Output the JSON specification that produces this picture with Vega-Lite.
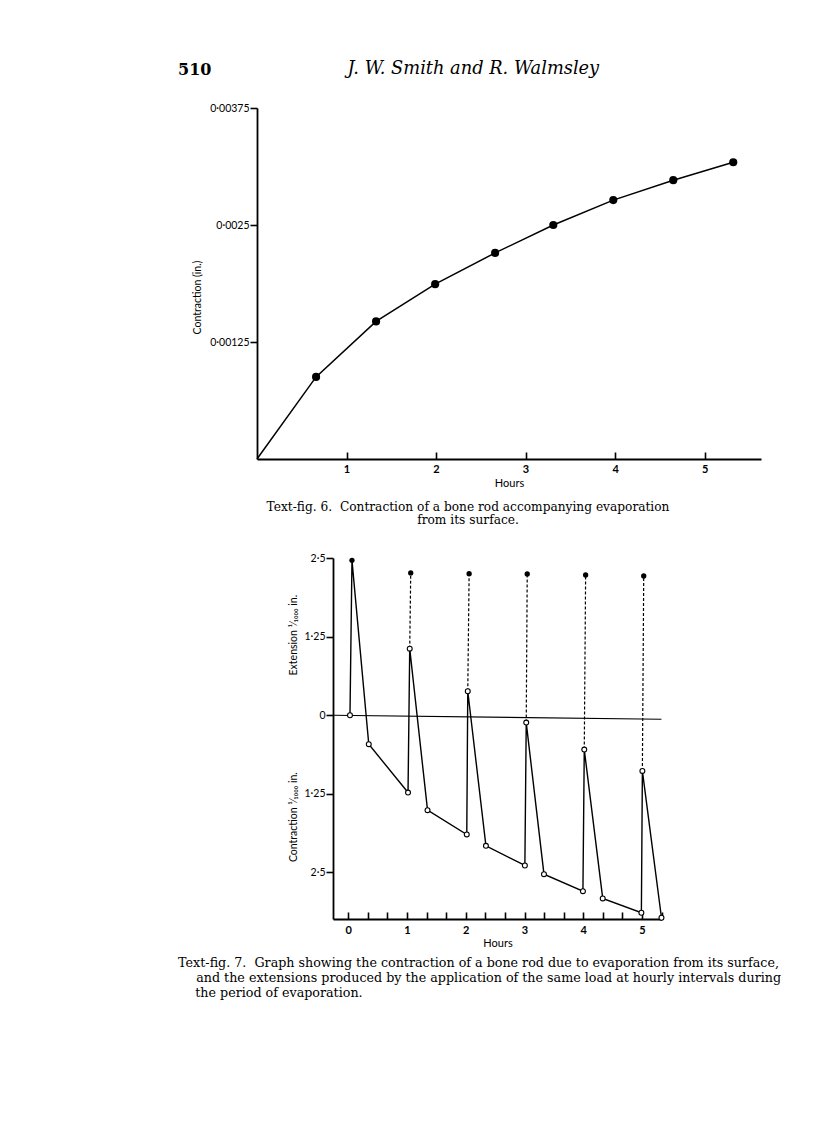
{
  "$schema": "https://vega.github.io/schema/vega-lite/v6.json",
  "background": "white",
  "padding": {"left": 175, "top": 60, "right": 5, "bottom": 5},
  "title": {"text": "510", "anchor": "start", "frame": "group", "font": "DejaVu Serif", "fontSize": 16, "fontWeight": "bold", "color": "black", "offset": -18, "dx": -79},
  "bounds": "flush",
  "spacing": 99,
  "config": {
    "view": {"stroke": null},
    "axis": {"domainColor": "black", "domainWidth": 1.8, "tickColor": "black", "tickWidth": 1.6, "labelColor": "black", "titleColor": "black", "labelFont": "Lato", "titleFont": "Lato", "labelFontSize": 10, "titleFontSize": 11, "titleFontWeight": "normal", "grid": false},
    "title": {"color": "black"}
  },
  "datasets": {
    "zig": [
      {"order": 1, "hour": 0.029, "value": 0, "kind": "open"},
      {"order": 2, "hour": 0.063, "value": 2.463, "kind": "filled"},
      {"order": 3, "hour": 0.349, "value": -0.461, "kind": "open"},
      {"order": 4, "hour": 1.017, "value": -1.229, "kind": "open"},
      {"order": 5, "hour": 1.046, "value": 1.059, "kind": "open"},
      {"order": 6, "hour": 1.349, "value": -1.51, "kind": "open"},
      {"order": 7, "hour": 2.017, "value": -1.896, "kind": "open"},
      {"order": 8, "hour": 2.034, "value": 0.381, "kind": "open"},
      {"order": 9, "hour": 2.343, "value": -2.076, "kind": "open"},
      {"order": 10, "hour": 3.006, "value": -2.389, "kind": "open"},
      {"order": 11, "hour": 3.029, "value": -0.117, "kind": "open"},
      {"order": 12, "hour": 3.331, "value": -2.527, "kind": "open"},
      {"order": 13, "hour": 3.994, "value": -2.797, "kind": "open"},
      {"order": 14, "hour": 4.017, "value": -0.546, "kind": "open"},
      {"order": 15, "hour": 4.331, "value": -2.913, "kind": "open"},
      {"order": 16, "hour": 4.989, "value": -3.141, "kind": "open"},
      {"order": 17, "hour": 5.006, "value": -0.885, "kind": "open"},
      {"order": 18, "hour": 5.331, "value": -3.22, "kind": "open"}
    ],
    "load": [
      {"interval": 1, "hour": 1.046, "value": 1.059},
      {"interval": 1, "hour": 1.063, "value": 2.262},
      {"interval": 2, "hour": 2.034, "value": 0.381},
      {"interval": 2, "hour": 2.057, "value": 2.251},
      {"interval": 3, "hour": 3.029, "value": -0.117},
      {"interval": 3, "hour": 3.046, "value": 2.246},
      {"interval": 4, "hour": 4.017, "value": -0.546},
      {"interval": 4, "hour": 4.04, "value": 2.23},
      {"interval": 5, "hour": 5.006, "value": -0.885},
      {"interval": 5, "hour": 5.029, "value": 2.214}
    ],
    "tops": [
      {"hour": 0.063, "value": 2.463},
      {"hour": 1.063, "value": 2.262},
      {"hour": 2.057, "value": 2.251},
      {"hour": 3.046, "value": 2.246},
      {"hour": 4.04, "value": 2.23},
      {"hour": 5.029, "value": 2.214}
    ],
    "baseline": [
      {"hour": -0.26, "value": 0},
      {"hour": 5.33, "value": -0.064}
    ],
    "evap": [
      {"hours": 0, "contraction": 0},
      {"hours": 0.66, "contraction": 0.000877},
      {"hours": 1.33, "contraction": 0.00147},
      {"hours": 1.99, "contraction": 0.001868},
      {"hours": 2.66, "contraction": 0.002202},
      {"hours": 3.31, "contraction": 0.0025},
      {"hours": 3.98, "contraction": 0.002766},
      {"hours": 4.65, "contraction": 0.002979},
      {"hours": 5.32, "contraction": 0.003171}
    ]
  },
  "vconcat": [
    {
      "width": 504,
      "height": 351,
      "title": {"text": "J. W. Smith and R. Walmsley", "anchor": "middle", "frame": "bounds", "font": "DejaVu Serif", "fontStyle": "italic", "fontWeight": "normal", "fontSize": 17.8, "offset": 25, "dx": -3.5},
      "data": {"name": "evap"},
      "encoding": {
        "x": {"field": "hours", "type": "quantitative", "scale": {"domain": [0, 5.63], "nice": false, "zero": false},
              "axis": {"values": [1, 2, 3, 4, 5], "format": "d", "tickSize": -7, "labelPadding": 11, "labelFontSize": 11, "labelFontWeight": "bold", "title": "Hours", "titlePadding": 3}},
        "y": {"field": "contraction", "type": "quantitative", "scale": {"domain": [0, 0.00375], "nice": false, "zero": false},
              "axis": {"values": [0.00125, 0.0025, 0.00375], "labelExpr": "replace(format(datum.value, '~f'), '.', '·')", "tickSize": 7, "labelPadding": 1, "labelFontSize": 10.5, "title": "Contraction (in.)", "titleFontSize": 10.5, "titlePadding": 7, "titleY": 189}}
      },
      "layer": [
        {"mark": {"type": "line", "color": "black", "strokeWidth": 1.5}},
        {"transform": [{"filter": "datum.hours > 0"}], "mark": {"type": "circle", "color": "black", "opacity": 1, "size": 66}}
      ]
    },
    {
      "title": {"text": ["Text-fig. 6.\u00a0 Contraction of a bone rod accompanying evaporation", "from its surface."], "orient": "top", "anchor": "middle", "frame": "group", "font": "DejaVu Serif", "fontSize": 12.2, "fontWeight": "normal", "lineHeight": 13, "offset": 27, "dx": 211},
      "bounds": "flush",
      "spacing": 0,
      "hconcat": [
        {"width": 76, "height": 10, "data": {"values": []}, "mark": "point"},
        {
          "width": 329,
          "height": 361,
          "title": {"text": ["Text-fig. 7.\u00a0 Graph showing the contraction of a bone rod due to evaporation from its surface,", "\u200d\u00a0\u00a0\u00a0\u00a0\u00a0and the extensions produced by the application of the same load at hourly intervals during", "\u200d\u00a0\u00a0\u00a0\u00a0\u00a0the period of evaporation.\u00a0\u00a0\u00a0\u00a0\u00a0\u00a0\u00a0\u00a0\u00a0\u00a0\u00a0\u00a0\u00a0\u00a0\u00a0\u00a0\u00a0\u00a0\u00a0\u00a0\u00a0\u00a0\u00a0\u00a0\u00a0\u00a0\u00a0\u00a0\u00a0\u00a0\u00a0\u00a0\u00a0\u00a0\u00a0\u00a0\u00a0\u00a0\u00a0\u00a0\u00a0\u00a0\u00a0\u00a0\u00a0\u00a0\u00a0\u00a0\u00a0\u00a0\u00a0\u00a0\u00a0\u00a0\u00a0\u00a0\u00a0\u00a0\u00a0\u00a0\u00a0\u00a0\u00a0\u00a0\u00a0\u00a0\u00a0\u00a0\u00a0\u00a0\u00a0\u00a0\u00a0\u00a0\u00a0\u00a0\u00a0\u00a0\u00a0\u00a0\u00a0\u00a0\u00a0\u00a0\u00a0\u00a0\u00a0\u00a0\u00a0\u00a0\u00a0\u00a0\u00a0\u00a0\u00a0\u00a0\u00a0\u00a0\u00a0\u00a0\u00a0\u00a0\u00a0\u00a0\u200d"], "orient": "bottom", "anchor": "middle", "frame": "bounds", "font": "DejaVu Serif", "fontSize": 12.7, "fontWeight": "normal", "lineHeight": 15, "offset": 9, "dx": 1.5},
          "encoding": {
            "x": {"field": "hour", "type": "quantitative", "scale": {"domain": [-0.26, 5.34], "nice": false, "zero": false},
                  "axis": {"values": [0, 0.3333, 0.6667, 1, 1.3333, 1.6667, 2, 2.3333, 2.6667, 3, 3.3333, 3.6667, 4, 4.3333, 4.6667, 5, 5.3333], "labelExpr": "abs(datum.value - round(datum.value)) < 0.01 ? format(datum.value, 'd') : ''", "tickSize": -7, "labelPadding": 12, "labelFontSize": 11, "labelFontWeight": "bold", "title": "Hours", "titlePadding": 2}},
            "y": {"field": "value", "type": "quantitative", "scale": {"domain": [-3.24, 2.5], "nice": false, "zero": false},
                  "axis": {"values": [-2.5, -1.25, 0, 1.25, 2.5], "labelExpr": "datum.value == 0 ? '0' : replace(format(abs(datum.value), '~f'), '.', '·')", "tickSize": 7, "labelPadding": 1, "labelFontSize": 10.5, "title": "Contraction ¹⁄₁₀₀₀ in.\u00a0\u00a0\u00a0\u00a0\u00a0\u00a0\u00a0\u00a0\u00a0\u00a0\u00a0\u00a0\u00a0\u00a0\u00a0\u00a0\u00a0\u00a0\u00a0\u00a0\u00a0\u00a0\u00a0\u00a0\u00a0\u00a0\u00a0\u00a0\u00a0\u00a0\u00a0\u00a0\u00a0\u00a0\u00a0\u00a0Extension ¹⁄₁₀₀₀ in.", "titleFontSize": 10.5, "titlePadding": 6, "titleY": 170}}
          },
          "layer": [
            {"data": {"name": "baseline"}, "mark": {"type": "line", "color": "black", "strokeWidth": 1.2}},
            {"data": {"name": "load"}, "mark": {"type": "line", "color": "black", "strokeWidth": 1.2, "strokeDash": [3, 2]}, "encoding": {"detail": {"field": "interval", "type": "nominal"}}},
            {"data": {"name": "zig"}, "mark": {"type": "line", "color": "black", "strokeWidth": 1.4}, "encoding": {"order": {"field": "order", "type": "quantitative"}}},
            {"data": {"name": "zig"}, "transform": [{"filter": "datum.kind == 'open'"}], "mark": {"type": "circle", "fill": "white", "stroke": "black", "strokeWidth": 1.1, "opacity": 1, "size": 24}},
            {"data": {"name": "tops"}, "mark": {"type": "circle", "color": "black", "opacity": 1, "size": 28}}
          ]
        }
      ]
    }
  ]
}
